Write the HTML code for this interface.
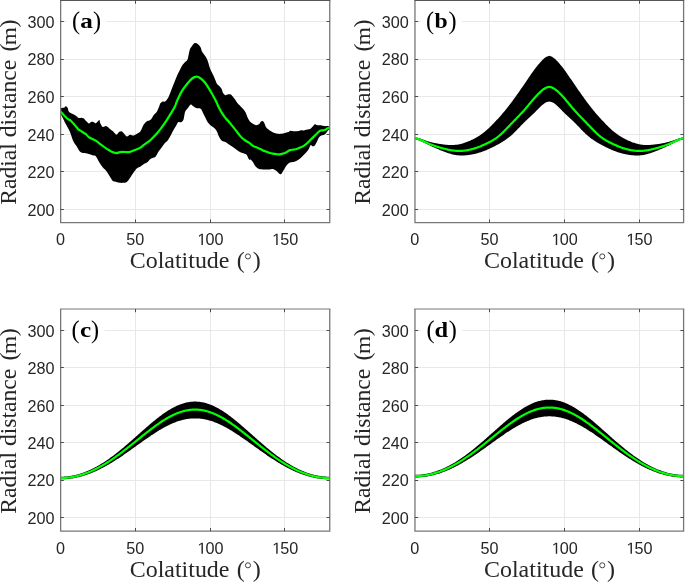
<!DOCTYPE html><html><head><meta charset="utf-8"><style>html,body{margin:0;padding:0;background:#fff;}body{width:685px;height:582px;overflow:hidden;}svg{display:block;}#w{will-change:transform;width:685px;height:582px;}.tk{font-family:"Liberation Sans",sans-serif;font-size:16.2px;fill:#262626;}.lb{font-family:"Liberation Serif",serif;font-size:23px;fill:#262626;}.lp{font-family:"Liberation Serif",serif;font-size:24px;fill:#262626;}.lm{font-family:"Liberation Serif",serif;font-size:22px;fill:#262626;}.pp{font-family:"Liberation Serif",serif;font-size:24.3px;font-weight:normal;fill:#000;}.pt{font-family:"Liberation Serif",serif;font-size:21.8px;font-weight:bold;fill:#000;}</style></head><body><div id="w"><svg width="685" height="582" viewBox="0 0 685 582"><defs><clipPath id="clipa"><rect x="60.5" y="0.5" width="269.1" height="222"/></clipPath><clipPath id="clipb"><rect x="414.8" y="0.5" width="269.1" height="222"/></clipPath><clipPath id="clipc"><rect x="60.5" y="309.5" width="269.1" height="221.7"/></clipPath><clipPath id="clipd"><rect x="414.8" y="309.5" width="269.1" height="221.7"/></clipPath></defs><rect width="685" height="582" fill="#fff"/><g stroke="#e8e8e8" stroke-width="1"><line x1="60.5" y1="209.5" x2="329.6" y2="209.5"/><line x1="60.5" y1="171.5" x2="329.6" y2="171.5"/><line x1="60.5" y1="134.5" x2="329.6" y2="134.5"/><line x1="60.5" y1="96.5" x2="329.6" y2="96.5"/><line x1="60.5" y1="59.5" x2="329.6" y2="59.5"/><line x1="60.5" y1="21.5" x2="329.6" y2="21.5"/><line x1="135.5" y1="0.5" x2="135.5" y2="222.5"/><line x1="210.5" y1="0.5" x2="210.5" y2="222.5"/><line x1="284.5" y1="0.5" x2="284.5" y2="222.5"/></g><g stroke="#e8e8e8" stroke-width="1"><line x1="414.8" y1="209.5" x2="683.9" y2="209.5"/><line x1="414.8" y1="171.5" x2="683.9" y2="171.5"/><line x1="414.8" y1="134.5" x2="683.9" y2="134.5"/><line x1="414.8" y1="96.5" x2="683.9" y2="96.5"/><line x1="414.8" y1="59.5" x2="683.9" y2="59.5"/><line x1="414.8" y1="21.5" x2="683.9" y2="21.5"/><line x1="489.5" y1="0.5" x2="489.5" y2="222.5"/><line x1="564.5" y1="0.5" x2="564.5" y2="222.5"/><line x1="639.5" y1="0.5" x2="639.5" y2="222.5"/></g><g stroke="#e8e8e8" stroke-width="1"><line x1="60.5" y1="517.5" x2="329.6" y2="517.5"/><line x1="60.5" y1="480.5" x2="329.6" y2="480.5"/><line x1="60.5" y1="442.5" x2="329.6" y2="442.5"/><line x1="60.5" y1="405.5" x2="329.6" y2="405.5"/><line x1="60.5" y1="367.5" x2="329.6" y2="367.5"/><line x1="60.5" y1="330.5" x2="329.6" y2="330.5"/><line x1="135.5" y1="309.5" x2="135.5" y2="531.2"/><line x1="210.5" y1="309.5" x2="210.5" y2="531.2"/><line x1="284.5" y1="309.5" x2="284.5" y2="531.2"/></g><g stroke="#e8e8e8" stroke-width="1"><line x1="414.8" y1="517.5" x2="683.9" y2="517.5"/><line x1="414.8" y1="480.5" x2="683.9" y2="480.5"/><line x1="414.8" y1="442.5" x2="683.9" y2="442.5"/><line x1="414.8" y1="405.5" x2="683.9" y2="405.5"/><line x1="414.8" y1="367.5" x2="683.9" y2="367.5"/><line x1="414.8" y1="330.5" x2="683.9" y2="330.5"/><line x1="489.5" y1="309.5" x2="489.5" y2="531.2"/><line x1="564.5" y1="309.5" x2="564.5" y2="531.2"/><line x1="639.5" y1="309.5" x2="639.5" y2="531.2"/></g><g clip-path="url(#clipa)"><path d="M60.47,108.75C60.64,108.63 61.1,108.23 61.5,108.06C61.9,107.89 62.41,107.77 62.87,107.71C63.33,107.66 63.9,107.89 64.25,107.71C64.59,107.54 64.65,106.95 64.93,106.68C65.22,106.42 65.62,106.08 65.97,106.13C66.31,106.19 66.65,106.59 67,107.03C67.34,107.46 67.8,108.12 68.03,108.75C68.26,109.38 68.14,110.23 68.37,110.81C68.6,111.38 68.94,111.78 69.4,112.18C69.86,112.58 70.49,112.87 71.12,113.21C71.75,113.56 72.61,113.96 73.18,114.24C73.75,114.53 73.98,114.59 74.56,114.93C75.13,115.27 75.93,115.79 76.62,116.31C77.31,116.82 77.88,117.79 78.68,118.02C79.48,118.25 80.63,117.62 81.43,117.68C82.23,117.74 82.8,117.91 83.49,118.37C84.18,118.83 84.87,119.74 85.55,120.43C86.24,121.12 87.04,121.98 87.62,122.49C88.19,123.01 88.53,123.52 88.99,123.52C89.45,123.52 89.91,122.78 90.36,122.49C90.82,122.21 91.17,121.86 91.74,121.8C92.31,121.75 93.09,121.92 93.8,122.15C94.51,122.38 95.09,123.53 96,123.18C96.91,122.83 98.55,120.16 99.24,120.07C99.92,119.98 99.52,121.5 100.1,122.65C100.67,123.79 101.67,126.37 102.67,126.94C103.68,127.51 104.96,125.8 106.11,126.08C107.26,126.37 108.4,127.8 109.55,128.66C110.69,129.52 111.84,130.23 112.98,131.24C114.13,132.24 115.42,134.53 116.42,134.67C117.42,134.82 118.14,132.67 119,132.1C119.86,131.52 120.71,130.95 121.57,131.24C122.43,131.52 123.29,132.96 124.15,133.81C125.01,134.67 125.73,136.25 126.73,136.39C127.73,136.53 129.02,134.82 130.16,134.67C131.31,134.53 132.46,135.68 133.6,135.53C134.75,135.39 135.89,134.53 137.04,133.81C138.18,133.1 139.33,132.81 140.47,131.24C141.62,129.66 142.77,126.08 143.91,124.36C145.06,122.65 146.45,121.55 147.35,120.93C148.24,120.3 148.61,120.93 149.28,120.62C149.94,120.31 150.65,119.93 151.34,119.07C152.03,118.21 152.54,116.58 153.4,115.46C154.26,114.35 155.72,113.4 156.49,112.37C157.27,111.34 157.53,110.48 158.04,109.28C158.56,108.08 159.16,106.19 159.59,105.15C160.02,104.12 160.1,103.69 160.62,103.09C161.13,102.49 161.87,101.84 162.68,101.55C163.49,101.25 164.43,102.21 165.46,101.31C166.5,100.41 167.74,98.48 168.9,96.15C170.06,93.82 171.42,89.79 172.41,87.31C173.39,84.84 174.01,83.31 174.81,81.3C175.61,79.3 176.41,77.09 177.22,75.29C178.02,73.48 178.82,72.08 179.62,70.48C180.42,68.87 181.23,66.97 182.03,65.66C182.83,64.36 183.53,63.66 184.43,62.66C185.34,61.65 186.74,60.95 187.44,59.65C188.14,58.35 188.24,56.54 188.64,54.84C189.04,53.14 189.34,50.83 189.85,49.43C190.35,48.02 190.95,47.42 191.65,46.42C192.35,45.42 193.35,43.97 194.06,43.41C194.76,42.85 195.16,42.85 195.86,43.05C196.56,43.25 197.46,43.85 198.27,44.62C199.07,45.38 200.07,46.52 200.67,47.62C201.27,48.72 201.27,50.03 201.87,51.23C202.48,52.43 203.48,53.64 204.28,54.84C205.08,56.04 205.98,57.04 206.69,58.45C207.39,59.85 207.99,61.76 208.49,63.26C208.99,64.76 209.19,66.07 209.69,67.47C210.19,68.87 210.89,70.38 211.5,71.68C212.1,72.98 212.7,73.98 213.3,75.29C213.9,76.59 214.5,78.09 215.1,79.5C215.71,80.9 216.21,82.6 216.91,83.71C217.61,84.81 218.51,85.21 219.31,86.11C220.12,87.01 221.12,88.02 221.72,89.12C222.32,90.22 222.32,91.72 222.92,92.73C223.52,93.73 224.53,94.83 225.33,95.13C226.13,95.43 226.83,94.63 227.73,94.53C228.64,94.43 229.94,94.23 230.74,94.53C231.54,94.83 231.84,95.53 232.55,96.34C233.25,97.14 234.15,98.24 234.95,99.34C235.75,100.44 236.11,101.47 237.36,102.95C238.6,104.43 241.06,106.68 242.42,108.25C243.78,109.82 244.66,110.82 245.52,112.37C246.37,113.92 246.72,115.89 247.58,117.53C248.44,119.16 249.43,120.96 250.67,122.16C251.91,123.37 254.03,124.23 255,124.74C255.97,125.25 255.8,125.29 256.48,125.22C257.15,125.16 258.34,124.94 259.05,124.36C259.77,123.79 260.2,122.36 260.77,121.79C261.35,121.21 261.92,120.78 262.49,120.93C263.06,121.07 263.64,121.64 264.21,122.65C264.78,123.65 265.21,125.8 265.93,126.94C266.64,128.09 267.65,128.8 268.51,129.52C269.36,130.23 270.08,130.66 271.08,131.24C272.08,131.81 273.37,132.53 274.52,132.96C275.66,133.38 276.81,133.67 277.96,133.81C279.1,133.96 280.25,133.96 281.39,133.81C282.54,133.67 283.68,133.24 284.83,132.96C285.97,132.67 287.41,132.44 288.26,132.1C289.12,131.75 289.12,131.04 289.98,130.89C290.84,130.75 292.27,131.18 293.42,131.24C294.56,131.29 295.71,131.38 296.86,131.24C298,131.09 299.15,130.52 300.29,130.38C301.44,130.23 302.58,130.52 303.73,130.38C304.87,130.23 306.02,129.81 307.16,129.52C308.31,129.23 309.6,129.23 310.6,128.66C311.6,128.09 312.46,126.8 313.18,126.08C313.89,125.37 314.18,124.51 314.9,124.36C315.61,124.22 316.47,125.08 317.47,125.22C318.48,125.37 319.77,125.08 320.91,125.22C322.06,125.37 323.2,125.94 324.35,126.08C325.49,126.23 326.87,125.97 327.78,126.08C328.7,126.2 329.5,126.66 329.85,126.77L329.9,128.8C329.58,129.1 328.68,129.83 328,130.6C327.32,131.37 326.55,132.65 325.8,133.4C325.05,134.15 324.25,134.73 323.5,135.1C322.75,135.47 322.03,135.23 321.3,135.6C320.57,135.97 319.75,136.45 319.1,137.3C318.45,138.15 317.97,139.58 317.4,140.7C316.83,141.82 316.17,143.17 315.7,144C315.23,144.83 315.15,145.32 314.6,145.7C314.05,146.08 313.05,146.4 312.4,146.3C311.75,146.2 311.27,144.73 310.7,145.1C310.13,145.47 309.65,147.38 309,148.5C308.35,149.62 307.73,150.68 306.8,151.8C305.87,152.92 304.52,154.08 303.4,155.2C302.28,156.32 301.22,157.57 300.1,158.5C298.98,159.43 297.82,160.23 296.7,160.8C295.58,161.37 294.52,161.63 293.4,161.9C292.28,162.17 291.12,161.85 290,162.4C288.88,162.95 287.82,163.8 286.7,165.2C285.58,166.6 284.25,169.3 283.3,170.8C282.35,172.3 281.75,173.78 281,174.2C280.25,174.62 279.61,173.91 278.81,173.33C278.02,172.76 277.24,171.47 276.24,170.76C275.23,170.04 273.95,169.27 272.8,169.04C271.66,168.81 270.51,169.32 269.36,169.38C268.22,169.44 267.07,169.38 265.93,169.38C264.78,169.38 263.64,169.44 262.49,169.38C261.35,169.32 260.2,169.52 259.05,169.04C257.91,168.55 256.62,167.61 255.62,166.46C254.62,165.32 253.9,163.31 253.04,162.16C252.18,161.02 251.2,160.15 250.46,159.59C249.73,159.02 249.26,159.59 248.61,158.76C247.96,157.94 247.58,155.58 246.55,154.64C245.52,153.69 243.8,153.69 242.42,153.09C241.05,152.49 239.67,151.89 238.3,151.03C236.92,150.17 235.55,148.88 234.18,147.94C232.8,146.99 231.43,146.31 230.05,145.36C228.68,144.42 227.3,143.04 225.93,142.27C224.55,141.49 223.01,141.75 221.8,140.72C220.6,139.69 219.48,137.54 218.71,136.08C217.94,134.62 217.85,133.25 217.16,131.96C216.48,130.67 215.7,129.47 214.59,128.35C213.47,127.23 211.67,126.37 210.46,125.26C209.26,124.14 208.23,122.94 207.37,121.65C206.51,120.36 206,118.9 205.31,117.53C204.62,116.15 203.93,114.78 203.25,113.4C202.56,112.03 201.87,110.14 201.19,109.28C200.5,108.42 199.7,108.42 199.12,108.25C198.55,108.08 198.31,108.33 197.73,108.25C197.16,108.16 196.53,108.16 195.67,107.73C194.81,107.3 193.44,106.19 192.58,105.67C191.72,105.15 191.2,104.38 190.52,104.64C189.83,104.9 189.31,106.1 188.45,107.22C187.59,108.33 186.05,109.97 185.36,111.34C184.67,112.71 184.67,114 184.33,115.46C183.99,116.92 183.81,118.99 183.3,120.1C182.78,121.22 182.1,121.82 181.24,122.16C180.38,122.51 179,121.56 178.14,122.16C177.29,122.77 176.94,124.31 176.08,125.77C175.22,127.23 173.85,129.38 172.99,130.93C172.13,132.47 171.79,133.51 170.93,135.05C170.07,136.6 168.87,138.83 167.84,140.21C166.8,141.58 165.77,142.1 164.74,143.3C163.71,144.5 162.68,146.05 161.65,147.42C160.62,148.8 159.59,150 158.56,151.55C157.53,153.09 156.76,155.5 155.46,156.7C154.17,157.9 152.14,157.82 150.78,158.73C149.43,159.64 148.49,161.31 147.35,162.16C146.2,163.02 145.06,163.17 143.91,163.88C142.77,164.6 141.62,165.74 140.47,166.46C139.33,167.18 138.18,167.18 137.04,168.18C135.89,169.18 134.75,170.9 133.6,172.47C132.46,174.05 131.31,176.05 130.16,177.63C129.02,179.2 127.87,181.07 126.73,181.92C125.58,182.78 124.44,182.64 123.29,182.78C122.15,182.93 121,182.93 119.86,182.78C118.71,182.64 117.56,182.21 116.42,181.92C115.27,181.64 114.13,182.07 112.98,181.07C111.84,180.06 110.69,177.63 109.55,175.91C108.4,174.19 107.26,172.19 106.11,170.76C104.96,169.32 103.82,168.75 102.67,167.32C101.53,165.89 100.38,164.03 99.24,162.16C98.09,160.3 96.95,157.3 95.8,156.15C94.66,155.01 93.8,155.72 92.36,155.29C90.93,154.86 88.93,154 87.21,153.57C85.49,153.14 83.34,153.14 82.05,152.71C80.77,152.29 80.34,152 79.48,151C78.62,149.99 77.9,148.28 76.9,146.7C75.9,145.13 74.48,143.63 73.46,141.55C72.44,139.46 71.4,135.86 70.78,134.18C70.16,132.49 70.15,132.34 69.75,131.43C69.34,130.51 68.83,129.54 68.37,128.68C67.91,127.82 67.45,127.07 67,126.27C66.54,125.47 66.08,124.73 65.62,123.87C65.16,123.01 64.71,122.03 64.25,121.12C63.79,120.2 63.33,119.28 62.87,118.37C62.41,117.45 61.9,116.53 61.5,115.62C61.1,114.7 60.64,113.33 60.47,112.87Z" fill="#000"/><path d="M60.47,111.49C60.75,111.78 61.56,112.53 62.19,113.21C62.82,113.9 63.56,114.87 64.25,115.62C64.93,116.36 65.62,117.05 66.31,117.68C67,118.31 67.68,118.94 68.37,119.4C69.06,119.86 69.75,119.91 70.43,120.43C71.12,120.95 71.81,121.75 72.49,122.49C73.18,123.24 73.87,124.1 74.56,124.9C75.24,125.7 75.93,126.5 76.62,127.3C77.31,128.1 78.11,129.19 78.68,129.71C79.25,130.22 79.48,130.05 80.05,130.4C80.63,130.74 81.43,131.31 82.12,131.77C82.8,132.23 83.49,132.69 84.18,133.14C84.87,133.6 85.45,133.83 86.24,134.52C87.03,135.2 87.91,136.51 88.93,137.25C89.95,137.99 91.22,138.4 92.36,138.97C93.51,139.54 94.66,139.97 95.8,140.69C96.95,141.4 98.09,142.41 99.24,143.26C100.38,144.12 101.53,144.98 102.67,145.84C103.82,146.7 104.96,147.65 106.11,148.42C107.26,149.19 108.4,149.85 109.55,150.48C110.69,151.11 111.84,151.77 112.98,152.2C114.13,152.63 115.27,153.06 116.42,153.06C117.56,153.06 118.71,152.4 119.86,152.2C121,152 122.15,151.86 123.29,151.86C124.44,151.86 125.58,152.2 126.73,152.2C127.87,152.2 129.02,152.14 130.16,151.86C131.31,151.57 132.46,150.91 133.6,150.48C134.75,150.05 135.89,149.77 137.04,149.28C138.18,148.79 139.33,148.28 140.47,147.56C141.62,146.84 142.77,145.84 143.91,144.98C145.06,144.12 146.28,143.2 147.35,142.41C148.41,141.61 148.96,141.43 150.31,140.21C151.66,138.98 153.75,136.94 155.46,135.05C157.18,133.16 158.9,131.1 160.62,128.87C162.34,126.63 164.05,124.23 165.77,121.65C167.49,119.07 169.38,115.98 170.93,113.4C172.47,110.82 174,108.33 175.05,106.19C176.1,104.04 176.05,103.09 177.22,100.55C178.38,98 180.42,93.63 182.03,90.92C183.63,88.22 185.24,86.31 186.84,84.31C188.44,82.3 190.35,80.1 191.65,78.89C192.95,77.69 193.65,77.45 194.66,77.09C195.66,76.73 196.56,76.43 197.66,76.73C198.77,77.03 200.07,77.93 201.27,78.89C202.48,79.86 203.68,81 204.88,82.5C206.08,84.01 207.29,86.01 208.49,87.92C209.69,89.82 210.89,91.82 212.1,93.93C213.3,96.03 214.6,98.33 215.71,100.55C216.81,102.76 217.52,104.9 218.71,107.22C219.9,109.53 221.63,112.54 222.84,114.43C224.04,116.32 225.07,117.5 225.93,118.56C226.79,119.62 227.19,119.88 228,120.8C228.81,121.72 229.88,123 230.8,124.1C231.72,125.2 232.58,126.27 233.5,127.4C234.42,128.53 235.38,129.72 236.3,130.9C237.22,132.08 238.08,133.35 239,134.5C239.92,135.65 240.88,136.88 241.8,137.8C242.72,138.72 243.58,139.35 244.5,140C245.42,140.65 246.38,141.15 247.3,141.7C248.22,142.25 249.19,142.7 250,143.3C250.81,143.9 251.25,144.7 252.18,145.33C253.12,145.95 254.47,146.53 255.62,147.04C256.76,147.56 257.91,147.9 259.05,148.42C260.2,148.93 261.35,149.62 262.49,150.14C263.64,150.65 264.78,151.08 265.93,151.51C267.07,151.94 268.22,152.37 269.36,152.71C270.51,153.06 271.66,153.34 272.8,153.57C273.95,153.8 275.09,153.95 276.24,154.09C277.38,154.23 278.53,154.52 279.67,154.43C280.82,154.35 281.96,153.95 283.11,153.57C284.26,153.2 285.4,152.77 286.55,152.2C287.69,151.63 288.84,150.57 289.98,150.14C291.13,149.71 292.27,149.82 293.42,149.62C294.56,149.42 295.71,149.28 296.86,148.93C298,148.59 299.15,148.08 300.29,147.56C301.44,147.04 302.58,146.56 303.73,145.84C304.87,145.13 306.02,144.27 307.16,143.26C308.31,142.26 309.46,140.97 310.6,139.83C311.75,138.68 312.89,137.54 314.04,136.39C315.18,135.25 316.47,133.9 317.47,132.96C318.48,132.01 319.19,131.15 320.05,130.72C320.91,130.29 321.77,130.52 322.63,130.38C323.49,130.23 324.35,130.23 325.21,129.86C326.07,129.49 327.01,128.57 327.78,128.14C328.56,127.71 329.5,127.43 329.85,127.29" fill="none" stroke="#00ff00" stroke-width="2.2" stroke-linejoin="round"/></g><g clip-path="url(#clipb)"><polygon points="414.8,136.95 415.47,137.12 416.15,137.31 416.82,137.5 417.49,137.71 418.16,137.92 418.84,138.14 419.51,138.37 420.18,138.6 420.85,138.84 421.53,139.07 422.2,139.31 422.87,139.56 423.55,139.8 424.22,140.04 424.89,140.27 425.56,140.51 426.24,140.74 426.91,140.96 427.58,141.18 428.25,141.39 428.93,141.59 429.6,141.78 430.27,141.97 430.95,142.15 431.62,142.32 432.29,142.48 432.96,142.64 433.64,142.79 434.31,142.93 434.98,143.07 435.66,143.21 436.33,143.34 437,143.46 437.67,143.58 438.35,143.69 439.02,143.8 439.69,143.91 440.36,144.01 441.04,144.11 441.71,144.2 442.38,144.29 443.06,144.38 443.73,144.47 444.4,144.55 445.07,144.63 445.75,144.7 446.42,144.76 447.09,144.82 447.76,144.88 448.44,144.92 449.11,144.96 449.78,144.99 450.46,145.01 451.13,145.02 451.8,145.02 452.47,145.02 453.15,145 453.82,144.97 454.49,144.93 455.17,144.87 455.84,144.81 456.51,144.73 457.18,144.64 457.86,144.53 458.53,144.41 459.2,144.28 459.87,144.14 460.55,143.98 461.22,143.82 461.89,143.64 462.57,143.45 463.24,143.25 463.91,143.04 464.58,142.82 465.26,142.59 465.93,142.35 466.6,142.1 467.27,141.84 467.95,141.58 468.62,141.3 469.29,141.01 469.97,140.72 470.64,140.42 471.31,140.11 471.98,139.79 472.66,139.46 473.33,139.13 474,138.78 474.67,138.42 475.35,138.06 476.02,137.68 476.69,137.29 477.37,136.89 478.04,136.48 478.71,136.06 479.38,135.63 480.06,135.18 480.73,134.72 481.4,134.25 482.08,133.76 482.75,133.26 483.42,132.75 484.09,132.22 484.77,131.68 485.44,131.12 486.11,130.55 486.78,129.96 487.46,129.36 488.13,128.75 488.8,128.13 489.48,127.49 490.15,126.84 490.82,126.17 491.49,125.5 492.17,124.81 492.84,124.11 493.51,123.41 494.18,122.69 494.86,121.95 495.53,121.26 496.2,120.56 496.88,119.85 497.55,119.13 498.22,118.4 498.89,117.67 499.57,116.92 500.24,116.17 500.91,115.41 501.58,114.64 502.26,113.86 502.93,113.07 503.6,112.28 504.28,111.48 504.95,110.67 505.62,109.84 506.29,108.99 506.97,108.14 507.64,107.29 508.31,106.43 508.99,105.56 509.66,104.69 510.33,103.81 511,102.93 511.68,102.05 512.35,101.14 513.02,100.21 513.69,99.29 514.37,98.35 515.04,97.42 515.71,96.48 516.39,95.53 517.06,94.59 517.73,93.63 518.4,92.68 519.08,91.72 519.75,90.76 520.42,89.79 521.09,88.82 521.77,87.85 522.44,86.88 523.11,85.89 523.79,84.91 524.46,83.92 525.13,82.93 525.8,81.94 526.48,80.95 527.15,79.96 527.82,78.98 528.49,77.99 529.17,77.02 529.84,76.05 530.51,75.06 531.19,74.08 531.86,73.11 532.53,72.16 533.2,71.21 533.88,70.28 534.55,69.37 535.22,68.48 535.89,67.6 536.57,66.74 537.24,65.9 537.91,65.08 538.59,64.27 539.26,63.48 539.93,62.71 540.6,61.96 541.28,61.23 541.95,60.53 542.62,59.85 543.3,59.21 543.97,58.61 544.64,58.07 545.31,57.56 545.99,57.09 546.66,56.7 547.33,56.38 548,56.13 548.68,55.95 549.35,55.85 550.02,55.97 550.7,56.16 551.37,56.42 552.04,56.75 552.71,57.16 553.39,57.63 554.06,58.14 554.73,58.7 555.4,59.3 556.08,59.95 556.75,60.63 557.42,61.34 558.1,62.07 558.77,62.83 559.44,63.6 560.11,64.39 560.79,65.2 561.46,66.03 562.13,66.87 562.81,67.73 563.48,68.61 564.15,69.51 564.82,70.42 565.5,71.35 566.17,72.3 566.84,73.26 567.51,74.23 568.19,75.21 568.86,76.19 569.53,77.16 570.21,78.14 570.88,79.12 571.55,80.11 572.22,81.1 572.9,82.09 573.57,83.08 574.24,84.07 574.91,85.06 575.59,86.04 576.26,87.02 576.93,88 577.61,88.97 578.28,89.94 578.95,90.9 579.62,91.86 580.3,92.82 580.97,93.78 581.64,94.73 582.31,95.67 582.99,96.62 583.66,97.56 584.33,98.49 585.01,99.42 585.68,100.35 586.35,101.28 587.02,102.18 587.7,103.06 588.37,103.94 589.04,104.82 589.72,105.69 590.39,106.55 591.06,107.42 591.73,108.27 592.41,109.12 593.08,109.96 593.75,110.8 594.42,111.6 595.1,112.4 595.77,113.19 596.44,113.98 597.12,114.75 597.79,115.52 598.46,116.28 599.13,117.04 599.81,117.78 600.48,118.51 601.15,119.24 601.82,119.96 602.5,120.66 603.17,121.36 603.84,122.06 604.52,122.79 605.19,123.51 605.86,124.22 606.53,124.92 607.21,125.6 607.88,126.27 608.55,126.93 609.22,127.58 609.9,128.22 610.57,128.84 611.24,129.45 611.92,130.05 612.59,130.63 613.26,131.2 613.93,131.76 614.61,132.3 615.28,132.82 615.95,133.34 616.62,133.83 617.3,134.32 617.97,134.79 618.64,135.25 619.32,135.69 619.99,136.12 620.66,136.54 621.33,136.95 622.01,137.35 622.68,137.74 623.35,138.11 624.03,138.48 624.7,138.83 625.37,139.18 626.04,139.51 626.72,139.84 627.39,140.16 628.06,140.46 628.73,140.76 629.41,141.06 630.08,141.34 630.75,141.62 631.43,141.88 632.1,142.14 632.77,142.39 633.44,142.63 634.12,142.86 634.79,143.08 635.46,143.28 636.13,143.48 636.81,143.67 637.48,143.84 638.15,144.01 638.83,144.16 639.5,144.3 640.17,144.43 640.84,144.55 641.52,144.65 642.19,144.74 642.86,144.82 643.54,144.88 644.21,144.93 644.88,144.97 645.55,145 646.23,145.02 646.9,145.03 647.57,145.02 648.24,145.01 648.92,144.99 649.59,144.95 650.26,144.91 650.94,144.87 651.61,144.81 652.28,144.75 652.95,144.69 653.63,144.61 654.3,144.54 654.97,144.45 655.64,144.37 656.32,144.28 656.99,144.19 657.66,144.09 658.34,143.99 659.01,143.89 659.68,143.78 660.35,143.67 661.03,143.56 661.7,143.44 662.37,143.32 663.04,143.19 663.72,143.05 664.39,142.91 665.06,142.77 665.74,142.62 666.41,142.46 667.08,142.29 667.75,142.12 668.43,141.94 669.1,141.75 669.77,141.56 670.45,141.36 671.12,141.15 671.79,140.93 672.46,140.7 673.14,140.47 673.81,140.24 674.48,140 675.15,139.76 675.83,139.52 676.5,139.28 677.17,139.04 677.85,138.8 678.52,138.57 679.19,138.34 679.86,138.11 680.54,137.89 681.21,137.68 681.88,137.47 682.55,137.28 683.23,137.1 683.9,136.92 683.9,139.01 683.23,139.2 682.55,139.4 681.88,139.61 681.21,139.84 680.54,140.09 679.86,140.34 679.19,140.61 678.52,140.89 677.85,141.17 677.17,141.47 676.5,141.77 675.83,142.08 675.15,142.39 674.48,142.71 673.81,143.04 673.14,143.36 672.46,143.69 671.79,144.02 671.12,144.34 670.45,144.67 669.77,144.99 669.1,145.31 668.43,145.63 667.75,145.95 667.08,146.27 666.41,146.58 665.74,146.89 665.06,147.2 664.39,147.5 663.72,147.81 663.04,148.11 662.37,148.41 661.7,148.7 661.03,148.99 660.35,149.28 659.68,149.57 659.01,149.85 658.34,150.13 657.66,150.41 656.99,150.68 656.32,150.95 655.64,151.21 654.97,151.47 654.3,151.73 653.63,151.98 652.95,152.23 652.28,152.47 651.61,152.71 650.94,152.94 650.26,153.17 649.59,153.38 648.92,153.59 648.24,153.8 647.57,153.99 646.9,154.18 646.23,154.35 645.55,154.52 644.88,154.68 644.21,154.83 643.54,154.96 642.86,155.06 642.19,155.15 641.52,155.23 640.84,155.3 640.17,155.36 639.5,155.4 638.83,155.44 638.15,155.46 637.48,155.48 636.81,155.48 636.13,155.47 635.46,155.46 634.79,155.43 634.12,155.4 633.44,155.35 632.77,155.3 632.1,155.24 631.43,155.17 630.75,155.09 630.08,155 629.41,154.9 628.73,154.79 628.06,154.69 627.39,154.58 626.72,154.46 626.04,154.33 625.37,154.2 624.7,154.05 624.03,153.9 623.35,153.74 622.68,153.58 622.01,153.4 621.33,153.22 620.66,153.03 619.99,152.84 619.32,152.63 618.64,152.42 617.97,152.2 617.3,151.98 616.62,151.75 615.95,151.51 615.28,151.26 614.61,151 613.93,150.74 613.26,150.47 612.59,150.2 611.92,149.92 611.24,149.63 610.57,149.34 609.9,149.04 609.22,148.73 608.55,148.42 607.88,148.11 607.21,147.79 606.53,147.47 605.86,147.14 605.19,146.81 604.52,146.47 603.84,146.12 603.17,145.78 602.5,145.42 601.82,145.06 601.15,144.7 600.48,144.33 599.81,143.96 599.13,143.58 598.46,143.2 597.79,142.81 597.12,142.41 596.44,142.01 595.77,141.59 595.1,141.17 594.42,140.74 593.75,140.29 593.08,139.84 592.41,139.37 591.73,138.89 591.06,138.4 590.39,137.89 589.72,137.37 589.04,136.83 588.37,136.28 587.7,135.71 587.02,135.12 586.35,134.52 585.68,133.9 585.01,133.26 584.33,132.6 583.66,131.94 582.99,131.26 582.31,130.57 581.64,129.88 580.97,129.18 580.3,128.47 579.62,127.77 578.95,127.06 578.28,126.35 577.61,125.65 576.93,124.95 576.26,124.26 575.59,123.57 574.91,122.9 574.24,122.23 573.57,121.58 572.9,120.93 572.22,120.3 571.55,119.67 570.88,119.05 570.21,118.43 569.53,117.81 568.86,117.19 568.19,116.57 567.51,115.95 566.84,115.32 566.17,114.69 565.5,114.05 564.82,113.4 564.15,112.74 563.48,112.07 562.81,111.4 562.13,110.72 561.46,110.04 560.79,109.36 560.11,108.68 559.44,108.01 558.77,107.35 558.1,106.7 557.42,106.06 556.75,105.44 556.08,104.84 555.4,104.28 554.73,103.75 554.06,103.27 553.39,102.83 552.71,102.46 552.04,102.16 551.37,101.92 550.7,101.74 550.02,101.64 549.35,101.6 548.68,101.63 548,101.72 547.33,101.89 546.66,102.12 545.99,102.41 545.31,102.78 544.64,103.2 543.97,103.67 543.3,104.2 542.62,104.76 541.95,105.35 541.28,105.97 540.6,106.6 539.93,107.25 539.26,107.91 538.59,108.58 537.91,109.26 537.24,109.94 536.57,110.62 535.89,111.3 535.22,111.97 534.55,112.64 533.88,113.3 533.2,113.95 532.53,114.59 531.86,115.23 531.19,115.85 530.51,116.48 529.84,117.1 529.17,117.71 528.49,118.33 527.82,118.95 527.15,119.58 526.48,120.2 525.8,120.84 525.13,121.48 524.46,122.13 523.79,122.8 523.11,123.47 522.44,124.15 521.77,124.85 521.09,125.55 520.42,126.25 519.75,126.95 519.08,127.66 518.4,128.37 517.73,129.07 517.06,129.77 516.39,130.47 515.71,131.16 515.04,131.84 514.37,132.51 513.69,133.16 513.02,133.8 512.35,134.43 511.68,135.04 511,135.63 510.33,136.2 509.66,136.75 508.99,137.29 508.31,137.82 507.64,138.33 506.97,138.82 506.29,139.3 505.62,139.77 504.95,140.23 504.28,140.67 503.6,141.11 502.93,141.53 502.26,141.95 501.58,142.35 500.91,142.75 500.24,143.14 499.57,143.53 498.89,143.9 498.22,144.28 497.55,144.65 496.88,145.01 496.2,145.37 495.53,145.72 494.86,146.07 494.18,146.42 493.51,146.76 492.84,147.09 492.17,147.42 491.49,147.74 490.82,148.06 490.15,148.37 489.48,148.69 488.8,148.99 488.13,149.29 487.46,149.59 486.78,149.88 486.11,150.16 485.44,150.43 484.77,150.7 484.09,150.97 483.42,151.22 482.75,151.47 482.08,151.71 481.4,151.94 480.73,152.17 480.06,152.39 479.38,152.6 478.71,152.81 478.04,153.01 477.37,153.2 476.69,153.38 476.02,153.55 475.35,153.72 474.67,153.88 474,154.03 473.33,154.18 472.66,154.31 471.98,154.44 471.31,154.56 470.64,154.67 469.97,154.78 469.29,154.89 468.62,154.98 467.95,155.07 467.27,155.16 466.6,155.23 465.93,155.29 465.26,155.35 464.58,155.39 463.91,155.43 463.24,155.46 462.57,155.47 461.89,155.48 461.22,155.48 460.55,155.46 459.87,155.44 459.2,155.41 458.53,155.36 457.86,155.31 457.18,155.24 456.51,155.17 455.84,155.08 455.17,154.98 454.49,154.85 453.82,154.7 453.15,154.55 452.47,154.38 451.8,154.2 451.13,154.02 450.46,153.83 449.78,153.62 449.11,153.42 448.44,153.2 447.76,152.98 447.09,152.75 446.42,152.51 445.75,152.27 445.07,152.02 444.4,151.77 443.73,151.51 443.06,151.25 442.38,150.99 441.71,150.72 441.04,150.45 440.36,150.17 439.69,149.89 439.02,149.61 438.35,149.32 437.67,149.04 437,148.74 436.33,148.45 435.66,148.15 434.98,147.85 434.31,147.55 433.64,147.24 432.96,146.94 432.29,146.63 431.62,146.31 430.95,146 430.27,145.68 429.6,145.36 428.93,145.04 428.25,144.72 427.58,144.39 426.91,144.06 426.24,143.74 425.56,143.41 424.89,143.08 424.22,142.76 423.55,142.44 422.87,142.13 422.2,141.82 421.53,141.51 420.85,141.22 420.18,140.93 419.51,140.65 418.84,140.38 418.16,140.12 417.49,139.88 416.82,139.65 416.15,139.43 415.47,139.23 414.8,139.04" fill="#000"/><polyline points="414.8,137.96 415.47,138.14 416.15,138.34 416.82,138.56 417.49,138.79 418.16,139.04 418.84,139.29 419.51,139.56 420.18,139.84 420.85,140.12 421.53,140.41 422.2,140.71 422.87,141.01 423.55,141.31 424.22,141.62 424.89,141.93 425.56,142.23 426.24,142.54 426.91,142.84 427.58,143.14 428.25,143.43 428.93,143.71 429.6,143.99 430.27,144.26 430.95,144.53 431.62,144.79 432.29,145.04 432.96,145.29 433.64,145.53 434.31,145.77 434.98,146 435.66,146.23 436.33,146.45 437,146.67 437.67,146.88 438.35,147.09 439.02,147.3 439.69,147.5 440.36,147.7 441.04,147.89 441.71,148.08 442.38,148.26 443.06,148.45 443.73,148.62 444.4,148.8 445.07,148.97 445.75,149.13 446.42,149.29 447.09,149.44 447.76,149.59 448.44,149.73 449.11,149.87 449.78,150 450.46,150.12 451.13,150.23 451.8,150.34 452.47,150.44 453.15,150.53 453.82,150.61 454.49,150.68 455.17,150.75 455.84,150.8 456.51,150.84 457.18,150.88 457.86,150.9 458.53,150.92 459.2,150.92 459.87,150.92 460.55,150.9 461.22,150.87 461.89,150.84 462.57,150.79 463.24,150.74 463.91,150.67 464.58,150.6 465.26,150.51 465.93,150.42 466.6,150.31 467.27,150.2 467.95,150.07 468.62,149.94 469.29,149.79 469.97,149.64 470.64,149.49 471.31,149.32 471.98,149.15 472.66,148.97 473.33,148.78 474,148.58 474.67,148.37 475.35,148.15 476.02,147.93 476.69,147.7 477.37,147.46 478.04,147.21 478.71,146.95 479.38,146.69 480.06,146.43 480.73,146.15 481.4,145.88 482.08,145.59 482.75,145.3 483.42,145.01 484.09,144.71 484.77,144.4 485.44,144.09 486.11,143.77 486.78,143.45 487.46,143.12 488.13,142.78 488.8,142.46 489.48,142.12 490.15,141.77 490.82,141.42 491.49,141.05 492.17,140.67 492.84,140.27 493.51,139.86 494.18,139.44 494.86,139 495.53,138.54 496.2,138.07 496.88,137.58 497.55,137.07 498.22,136.55 498.89,136 499.57,135.44 500.24,134.85 500.91,134.24 501.58,133.62 502.26,132.99 502.93,132.34 503.6,131.68 504.28,131.01 504.95,130.34 505.62,129.66 506.29,128.97 506.97,128.28 507.64,127.58 508.31,126.89 508.99,126.19 509.66,125.49 510.33,124.79 511,124.07 511.68,123.36 512.35,122.65 513.02,121.95 513.69,121.26 514.37,120.57 515.04,119.88 515.71,119.19 516.39,118.5 517.06,117.81 517.73,117.12 518.4,116.43 519.08,115.73 519.75,115.03 520.42,114.32 521.09,113.61 521.77,112.89 522.44,112.16 523.11,111.42 523.79,110.67 524.46,109.9 525.13,109.13 525.8,108.34 526.48,107.55 527.15,106.75 527.82,105.95 528.49,105.14 529.17,104.33 529.84,103.52 530.51,102.71 531.19,101.9 531.86,101.1 532.53,100.3 533.2,99.51 533.88,98.72 534.55,97.95 535.22,97.19 535.89,96.44 536.57,95.71 537.24,94.99 537.91,94.3 538.59,93.62 539.26,92.97 539.93,92.34 540.6,91.71 541.28,91.09 541.95,90.51 542.62,89.97 543.3,89.46 543.97,88.98 544.64,88.56 545.31,88.18 545.99,87.84 546.66,87.55 547.33,87.31 548,87.12 548.68,86.98 549.35,86.91 550.02,87 550.7,87.14 551.37,87.34 552.04,87.59 552.71,87.89 553.39,88.23 554.06,88.62 554.73,89.05 555.4,89.53 556.08,90.05 556.75,90.6 557.42,91.18 558.1,91.8 558.77,92.43 559.44,93.07 560.11,93.72 560.79,94.4 561.46,95.1 562.13,95.82 562.81,96.55 563.48,97.3 564.15,98.06 564.82,98.84 565.5,99.62 566.17,100.42 566.84,101.22 567.51,102.02 568.19,102.83 568.86,103.64 569.53,104.45 570.21,105.26 570.88,106.07 571.55,106.87 572.22,107.67 572.9,108.46 573.57,109.24 574.24,110.02 574.91,110.78 575.59,111.53 576.26,112.27 576.93,113 577.61,113.72 578.28,114.43 578.95,115.14 579.62,115.84 580.3,116.53 580.97,117.22 581.64,117.91 582.31,118.6 582.99,119.29 583.66,119.98 584.33,120.67 585.01,121.36 585.68,122.06 586.35,122.76 587.02,123.47 587.7,124.18 588.37,124.89 589.04,125.6 589.72,126.29 590.39,126.99 591.06,127.69 591.73,128.38 592.41,129.07 593.08,129.76 593.75,130.44 594.42,131.11 595.1,131.78 595.77,132.43 596.44,133.08 597.12,133.71 597.79,134.33 598.46,134.94 599.13,135.52 599.81,136.08 600.48,136.63 601.15,137.15 601.82,137.65 602.5,138.14 603.17,138.61 603.84,139.06 604.52,139.5 605.19,139.92 605.86,140.33 606.53,140.72 607.21,141.1 607.88,141.47 608.55,141.83 609.22,142.17 609.9,142.51 610.57,142.83 611.24,143.17 611.92,143.5 612.59,143.82 613.26,144.14 613.93,144.45 614.61,144.75 615.28,145.05 615.95,145.34 616.62,145.63 617.3,145.92 617.97,146.2 618.64,146.47 619.32,146.73 619.99,146.99 620.66,147.25 621.33,147.49 622.01,147.73 622.68,147.96 623.35,148.18 624.03,148.4 624.7,148.61 625.37,148.81 626.04,148.99 626.72,149.18 627.39,149.35 628.06,149.51 628.73,149.66 629.41,149.82 630.08,149.96 630.75,150.09 631.43,150.22 632.1,150.33 632.77,150.43 633.44,150.53 634.12,150.61 634.79,150.68 635.46,150.75 636.13,150.8 636.81,150.85 637.48,150.88 638.15,150.9 638.83,150.92 639.5,150.92 640.17,150.91 640.84,150.9 641.52,150.87 642.19,150.84 642.86,150.79 643.54,150.74 644.21,150.67 644.88,150.6 645.55,150.51 646.23,150.42 646.9,150.32 647.57,150.22 648.24,150.1 648.92,149.98 649.59,149.85 650.26,149.71 650.94,149.57 651.61,149.42 652.28,149.27 652.95,149.11 653.63,148.94 654.3,148.77 654.97,148.6 655.64,148.42 656.32,148.24 656.99,148.05 657.66,147.86 658.34,147.67 659.01,147.47 659.68,147.27 660.35,147.06 661.03,146.85 661.7,146.64 662.37,146.42 663.04,146.2 663.72,145.97 664.39,145.73 665.06,145.5 665.74,145.25 666.41,145 667.08,144.75 667.75,144.49 668.43,144.22 669.1,143.95 669.77,143.67 670.45,143.38 671.12,143.09 671.79,142.79 672.46,142.49 673.14,142.19 673.81,141.88 674.48,141.58 675.15,141.27 675.83,140.97 676.5,140.66 677.17,140.37 677.85,140.08 678.52,139.79 679.19,139.52 679.86,139.25 680.54,139 681.21,138.76 681.88,138.53 682.55,138.31 683.23,138.11 683.9,137.93" fill="none" stroke="#00ff00" stroke-width="2.2" stroke-linejoin="round"/></g><g clip-path="url(#clipc)"><polygon points="60.5,476.73 61.25,476.73 61.99,476.72 62.74,476.69 63.49,476.66 64.24,476.62 64.98,476.57 65.73,476.51 66.48,476.45 67.23,476.37 67.97,476.29 68.72,476.19 69.47,476.09 70.22,475.98 70.97,475.86 71.71,475.73 72.46,475.59 73.21,475.44 73.95,475.29 74.7,475.12 75.45,474.95 76.2,474.77 76.94,474.58 77.69,474.38 78.44,474.17 79.19,473.95 79.94,473.73 80.68,473.49 81.43,473.25 82.18,473 82.92,472.74 83.67,472.47 84.42,472.2 85.17,471.91 85.92,471.62 86.66,471.32 87.41,471.01 88.16,470.69 88.91,470.36 89.65,470.03 90.4,469.68 91.15,469.33 91.9,468.98 92.64,468.61 93.39,468.23 94.14,467.85 94.88,467.46 95.63,467.06 96.38,466.66 97.13,466.24 97.88,465.82 98.62,465.4 99.37,464.96 100.12,464.52 100.87,464.07 101.61,463.61 102.36,463.14 103.11,462.67 103.86,462.19 104.6,461.71 105.35,461.22 106.1,460.72 106.84,460.21 107.59,459.7 108.34,459.18 109.09,458.65 109.84,458.12 110.58,457.59 111.33,457.04 112.08,456.49 112.83,455.94 113.57,455.38 114.32,454.81 115.07,454.24 115.81,453.66 116.56,453.08 117.31,452.49 118.06,451.9 118.81,451.3 119.55,450.7 120.3,450.09 121.05,449.48 121.8,448.87 122.54,448.25 123.29,447.63 124.04,447 124.79,446.37 125.53,445.73 126.28,445.1 127.03,444.46 127.78,443.81 128.52,443.17 129.27,442.52 130.02,441.87 130.77,441.21 131.51,440.56 132.26,439.9 133.01,439.24 133.75,438.58 134.5,437.92 135.25,437.26 136,436.59 136.75,435.93 137.49,435.26 138.24,434.6 138.99,433.93 139.74,433.27 140.48,432.6 141.23,431.94 141.98,431.28 142.73,430.62 143.47,429.96 144.22,429.3 144.97,428.64 145.72,427.98 146.46,427.33 147.21,426.68 147.96,426.04 148.71,425.39 149.45,424.75 150.2,424.11 150.95,423.48 151.69,422.85 152.44,422.22 153.19,421.6 153.94,420.99 154.69,420.38 155.43,419.77 156.18,419.17 156.93,418.58 157.68,417.99 158.42,417.41 159.17,416.84 159.92,416.27 160.67,415.71 161.41,415.16 162.16,414.61 162.91,414.07 163.66,413.54 164.4,413.02 165.15,412.51 165.9,412.01 166.65,411.51 167.39,411.03 168.14,410.55 168.89,410.09 169.63,409.63 170.38,409.19 171.13,408.76 171.88,408.33 172.62,407.92 173.37,407.52 174.12,407.13 174.87,406.75 175.62,406.39 176.36,406.03 177.11,405.69 177.86,405.36 178.61,405.05 179.35,404.74 180.1,404.45 180.85,404.18 181.6,403.91 182.34,403.66 183.09,403.43 183.84,403.2 184.59,402.99 185.33,402.8 186.08,402.61 186.83,402.45 187.57,402.29 188.32,402.16 189.07,402.03 189.82,401.92 190.57,401.83 191.31,401.74 192.06,401.68 192.81,401.63 193.56,401.59 194.3,401.57 195.05,401.56 195.8,401.57 196.55,401.59 197.29,401.63 198.04,401.68 198.79,401.74 199.54,401.83 200.28,401.92 201.03,402.03 201.78,402.16 202.53,402.29 203.27,402.45 204.02,402.61 204.77,402.8 205.52,402.99 206.26,403.2 207.01,403.43 207.76,403.66 208.51,403.91 209.25,404.18 210,404.45 210.75,404.74 211.5,405.05 212.24,405.36 212.99,405.69 213.74,406.03 214.49,406.39 215.23,406.75 215.98,407.13 216.73,407.52 217.48,407.92 218.22,408.33 218.97,408.76 219.72,409.19 220.47,409.63 221.21,410.09 221.96,410.55 222.71,411.03 223.46,411.51 224.2,412.01 224.95,412.51 225.7,413.02 226.45,413.54 227.19,414.07 227.94,414.61 228.69,415.16 229.44,415.71 230.18,416.27 230.93,416.84 231.68,417.41 232.43,417.99 233.17,418.58 233.92,419.17 234.67,419.77 235.42,420.38 236.16,420.99 236.91,421.6 237.66,422.22 238.41,422.85 239.15,423.48 239.9,424.11 240.65,424.75 241.4,425.39 242.14,426.04 242.89,426.68 243.64,427.33 244.39,427.98 245.13,428.64 245.88,429.3 246.63,429.96 247.38,430.62 248.12,431.28 248.87,431.94 249.62,432.6 250.37,433.27 251.11,433.93 251.86,434.6 252.61,435.26 253.36,435.93 254.1,436.59 254.85,437.26 255.6,437.92 256.35,438.58 257.09,439.24 257.84,439.9 258.59,440.56 259.34,441.21 260.08,441.87 260.83,442.52 261.58,443.17 262.33,443.81 263.07,444.46 263.82,445.1 264.57,445.73 265.31,446.37 266.06,447 266.81,447.63 267.56,448.25 268.31,448.87 269.05,449.48 269.8,450.09 270.55,450.7 271.3,451.3 272.04,451.9 272.79,452.49 273.54,453.08 274.28,453.66 275.03,454.24 275.78,454.81 276.53,455.38 277.28,455.94 278.02,456.49 278.77,457.04 279.52,457.59 280.26,458.12 281.01,458.65 281.76,459.18 282.51,459.7 283.25,460.21 284,460.72 284.75,461.22 285.5,461.71 286.25,462.19 286.99,462.67 287.74,463.14 288.49,463.61 289.24,464.07 289.98,464.52 290.73,464.96 291.48,465.4 292.23,465.82 292.97,466.24 293.72,466.66 294.47,467.06 295.22,467.46 295.96,467.85 296.71,468.23 297.46,468.61 298.21,468.98 298.95,469.33 299.7,469.68 300.45,470.03 301.2,470.36 301.94,470.69 302.69,471.01 303.44,471.32 304.19,471.62 304.93,471.91 305.68,472.2 306.43,472.47 307.18,472.74 307.92,473 308.67,473.25 309.42,473.49 310.17,473.73 310.91,473.95 311.66,474.17 312.41,474.38 313.16,474.58 313.9,474.77 314.65,474.95 315.4,475.12 316.14,475.29 316.89,475.44 317.64,475.59 318.39,475.73 319.14,475.86 319.88,475.98 320.63,476.09 321.38,476.19 322.12,476.29 322.87,476.37 323.62,476.45 324.37,476.51 325.12,476.57 325.86,476.62 326.61,476.66 327.36,476.69 328.11,476.72 328.85,476.73 329.6,476.73 329.6,479.35 328.85,479.35 328.11,479.34 327.36,479.32 326.61,479.29 325.86,479.26 325.12,479.22 324.37,479.17 323.62,479.11 322.87,479.05 322.12,478.97 321.38,478.89 320.63,478.81 319.88,478.71 319.14,478.61 318.39,478.5 317.64,478.39 316.89,478.26 316.14,478.13 315.4,477.99 314.65,477.85 313.9,477.69 313.16,477.53 312.41,477.36 311.66,477.19 310.91,477 310.17,476.81 309.42,476.62 308.67,476.41 307.92,476.2 307.18,475.98 306.43,475.76 305.68,475.52 304.93,475.28 304.19,475.04 303.44,474.78 302.69,474.52 301.94,474.26 301.2,473.98 300.45,473.7 299.7,473.41 298.95,473.12 298.21,472.82 297.46,472.51 296.71,472.2 295.96,471.88 295.22,471.55 294.47,471.22 293.72,470.88 292.97,470.53 292.23,470.18 291.48,469.82 290.73,469.46 289.98,469.09 289.24,468.71 288.49,468.33 287.74,467.94 286.99,467.55 286.25,467.15 285.5,466.75 284.75,466.34 284,465.92 283.25,465.5 282.51,465.08 281.76,464.65 281.01,464.21 280.26,463.77 279.52,463.33 278.77,462.88 278.02,462.42 277.28,461.96 276.53,461.5 275.78,461.03 275.03,460.56 274.28,460.09 273.54,459.61 272.79,459.12 272.04,458.63 271.3,458.14 270.55,457.65 269.8,457.15 269.05,456.65 268.31,456.14 267.56,455.64 266.81,455.13 266.06,454.61 265.31,454.1 264.57,453.58 263.82,453.06 263.07,452.54 262.33,452.01 261.58,451.48 260.83,450.96 260.08,450.43 259.34,449.89 258.59,449.36 257.84,448.83 257.09,448.29 256.35,447.76 255.6,447.22 254.85,446.68 254.1,446.15 253.36,445.61 252.61,445.07 251.86,444.54 251.11,444 250.37,443.47 249.62,442.93 248.87,442.4 248.12,441.86 247.38,441.33 246.63,440.8 245.88,440.27 245.13,439.75 244.39,439.22 243.64,438.7 242.89,438.18 242.14,437.66 241.4,437.15 240.65,436.64 239.9,436.13 239.15,435.62 238.41,435.12 237.66,434.63 236.91,434.13 236.16,433.64 235.42,433.16 234.67,432.68 233.92,432.2 233.17,431.73 232.43,431.27 231.68,430.81 230.93,430.35 230.18,429.91 229.44,429.46 228.69,429.03 227.94,428.6 227.19,428.17 226.45,427.76 225.7,427.35 224.95,426.94 224.2,426.55 223.46,426.16 222.71,425.78 221.96,425.41 221.21,425.04 220.47,424.69 219.72,424.34 218.97,424 218.22,423.67 217.48,423.35 216.73,423.03 215.98,422.73 215.23,422.43 214.49,422.15 213.74,421.87 212.99,421.61 212.24,421.35 211.5,421.1 210.75,420.87 210,420.64 209.25,420.42 208.51,420.22 207.76,420.02 207.01,419.84 206.26,419.67 205.52,419.5 204.77,419.35 204.02,419.21 203.27,419.08 202.53,418.96 201.78,418.85 201.03,418.76 200.28,418.67 199.54,418.6 198.79,418.53 198.04,418.48 197.29,418.44 196.55,418.41 195.8,418.4 195.05,418.39 194.3,418.4 193.56,418.41 192.81,418.44 192.06,418.48 191.31,418.53 190.57,418.6 189.82,418.67 189.07,418.76 188.32,418.85 187.57,418.96 186.83,419.08 186.08,419.21 185.33,419.35 184.59,419.5 183.84,419.67 183.09,419.84 182.34,420.02 181.6,420.22 180.85,420.42 180.1,420.64 179.35,420.87 178.61,421.1 177.86,421.35 177.11,421.61 176.36,421.87 175.62,422.15 174.87,422.43 174.12,422.73 173.37,423.03 172.62,423.35 171.88,423.67 171.13,424 170.38,424.34 169.63,424.69 168.89,425.04 168.14,425.41 167.39,425.78 166.65,426.16 165.9,426.55 165.15,426.94 164.4,427.35 163.66,427.76 162.91,428.17 162.16,428.6 161.41,429.03 160.67,429.46 159.92,429.91 159.17,430.35 158.42,430.81 157.68,431.27 156.93,431.73 156.18,432.2 155.43,432.68 154.69,433.16 153.94,433.64 153.19,434.13 152.44,434.63 151.69,435.12 150.95,435.62 150.2,436.13 149.45,436.64 148.71,437.15 147.96,437.66 147.21,438.18 146.46,438.7 145.72,439.22 144.97,439.75 144.22,440.27 143.47,440.8 142.73,441.33 141.98,441.86 141.23,442.4 140.48,442.93 139.74,443.47 138.99,444 138.24,444.54 137.49,445.07 136.75,445.61 136,446.15 135.25,446.68 134.5,447.22 133.75,447.76 133.01,448.29 132.26,448.83 131.51,449.36 130.77,449.89 130.02,450.43 129.27,450.96 128.52,451.48 127.78,452.01 127.03,452.54 126.28,453.06 125.53,453.58 124.79,454.1 124.04,454.61 123.29,455.13 122.54,455.64 121.8,456.14 121.05,456.65 120.3,457.15 119.55,457.65 118.81,458.14 118.06,458.63 117.31,459.12 116.56,459.61 115.81,460.09 115.07,460.56 114.32,461.03 113.57,461.5 112.83,461.96 112.08,462.42 111.33,462.88 110.58,463.33 109.84,463.77 109.09,464.21 108.34,464.65 107.59,465.08 106.84,465.5 106.1,465.92 105.35,466.34 104.6,466.75 103.86,467.15 103.11,467.55 102.36,467.94 101.61,468.33 100.87,468.71 100.12,469.09 99.37,469.46 98.62,469.82 97.88,470.18 97.13,470.53 96.38,470.88 95.63,471.22 94.88,471.55 94.14,471.88 93.39,472.2 92.64,472.51 91.9,472.82 91.15,473.12 90.4,473.41 89.65,473.7 88.91,473.98 88.16,474.26 87.41,474.52 86.66,474.78 85.92,475.04 85.17,475.28 84.42,475.52 83.67,475.76 82.92,475.98 82.18,476.2 81.43,476.41 80.68,476.62 79.94,476.81 79.19,477 78.44,477.19 77.69,477.36 76.94,477.53 76.2,477.69 75.45,477.85 74.7,477.99 73.95,478.13 73.21,478.26 72.46,478.39 71.71,478.5 70.97,478.61 70.22,478.71 69.47,478.81 68.72,478.89 67.97,478.97 67.23,479.05 66.48,479.11 65.73,479.17 64.98,479.22 64.24,479.26 63.49,479.29 62.74,479.32 61.99,479.34 61.25,479.35 60.5,479.35" fill="#000"/><polyline points="60.5,478.04 61.25,478.04 61.99,478.03 62.74,478.01 63.49,477.98 64.24,477.94 64.98,477.89 65.73,477.84 66.48,477.78 67.23,477.71 67.97,477.63 68.72,477.54 69.47,477.45 70.22,477.34 70.97,477.23 71.71,477.11 72.46,476.98 73.21,476.85 73.95,476.7 74.7,476.55 75.45,476.39 76.2,476.22 76.94,476.04 77.69,475.86 78.44,475.66 79.19,475.46 79.94,475.25 80.68,475.04 81.43,474.81 82.18,474.58 82.92,474.34 83.67,474.09 84.42,473.84 85.17,473.57 85.92,473.3 86.66,473.02 87.41,472.73 88.16,472.44 88.91,472.14 89.65,471.83 90.4,471.51 91.15,471.19 91.9,470.85 92.64,470.51 93.39,470.17 94.14,469.81 94.88,469.45 95.63,469.09 96.38,468.71 97.13,468.33 97.88,467.94 98.62,467.55 99.37,467.14 100.12,466.73 100.87,466.32 101.61,465.9 102.36,465.47 103.11,465.03 103.86,464.59 104.6,464.14 105.35,463.69 106.1,463.23 106.84,462.77 107.59,462.29 108.34,461.82 109.09,461.33 109.84,460.84 110.58,460.35 111.33,459.85 112.08,459.35 112.83,458.84 113.57,458.32 114.32,457.8 115.07,457.28 115.81,456.75 116.56,456.21 117.31,455.67 118.06,455.13 118.81,454.58 119.55,454.03 120.3,453.48 121.05,452.92 121.8,452.35 122.54,451.79 123.29,451.22 124.04,450.64 124.79,450.07 125.53,449.49 126.28,448.9 127.03,448.32 127.78,447.73 128.52,447.14 129.27,446.55 130.02,445.96 130.77,445.36 131.51,444.76 132.26,444.16 133.01,443.56 133.75,442.96 134.5,442.36 135.25,441.76 136,441.15 136.75,440.55 137.49,439.95 138.24,439.34 138.99,438.74 139.74,438.13 140.48,437.53 141.23,436.93 141.98,436.33 142.73,435.73 143.47,435.13 144.22,434.53 144.97,433.94 145.72,433.34 146.46,432.75 147.21,432.17 147.96,431.58 148.71,431 149.45,430.42 150.2,429.84 150.95,429.27 151.69,428.7 152.44,428.14 153.19,427.58 153.94,427.02 154.69,426.47 155.43,425.93 156.18,425.39 156.93,424.85 157.68,424.32 158.42,423.8 159.17,423.28 159.92,422.77 160.67,422.27 161.41,421.77 162.16,421.28 162.91,420.8 163.66,420.32 164.4,419.86 165.15,419.4 165.9,418.95 166.65,418.5 167.39,418.07 168.14,417.64 168.89,417.23 169.63,416.82 170.38,416.42 171.13,416.03 171.88,415.65 172.62,415.28 173.37,414.93 174.12,414.58 174.87,414.24 175.62,413.91 176.36,413.6 177.11,413.29 177.86,413 178.61,412.72 179.35,412.44 180.1,412.18 180.85,411.94 181.6,411.7 182.34,411.48 183.09,411.27 183.84,411.07 184.59,410.88 185.33,410.7 186.08,410.54 186.83,410.39 187.57,410.26 188.32,410.13 189.07,410.02 189.82,409.92 190.57,409.84 191.31,409.77 192.06,409.71 192.81,409.66 193.56,409.63 194.3,409.61 195.05,409.6 195.8,409.61 196.55,409.63 197.29,409.66 198.04,409.71 198.79,409.77 199.54,409.84 200.28,409.92 201.03,410.02 201.78,410.13 202.53,410.26 203.27,410.39 204.02,410.54 204.77,410.7 205.52,410.88 206.26,411.07 207.01,411.27 207.76,411.48 208.51,411.7 209.25,411.94 210,412.18 210.75,412.44 211.5,412.72 212.24,413 212.99,413.29 213.74,413.6 214.49,413.91 215.23,414.24 215.98,414.58 216.73,414.93 217.48,415.28 218.22,415.65 218.97,416.03 219.72,416.42 220.47,416.82 221.21,417.23 221.96,417.64 222.71,418.07 223.46,418.5 224.2,418.95 224.95,419.4 225.7,419.86 226.45,420.32 227.19,420.8 227.94,421.28 228.69,421.77 229.44,422.27 230.18,422.77 230.93,423.28 231.68,423.8 232.43,424.32 233.17,424.85 233.92,425.39 234.67,425.93 235.42,426.47 236.16,427.02 236.91,427.58 237.66,428.14 238.41,428.7 239.15,429.27 239.9,429.84 240.65,430.42 241.4,431 242.14,431.58 242.89,432.17 243.64,432.75 244.39,433.34 245.13,433.94 245.88,434.53 246.63,435.13 247.38,435.73 248.12,436.33 248.87,436.93 249.62,437.53 250.37,438.13 251.11,438.74 251.86,439.34 252.61,439.95 253.36,440.55 254.1,441.15 254.85,441.76 255.6,442.36 256.35,442.96 257.09,443.56 257.84,444.16 258.59,444.76 259.34,445.36 260.08,445.96 260.83,446.55 261.58,447.14 262.33,447.73 263.07,448.32 263.82,448.9 264.57,449.49 265.31,450.07 266.06,450.64 266.81,451.22 267.56,451.79 268.31,452.35 269.05,452.92 269.8,453.48 270.55,454.03 271.3,454.58 272.04,455.13 272.79,455.67 273.54,456.21 274.28,456.75 275.03,457.28 275.78,457.8 276.53,458.32 277.28,458.84 278.02,459.35 278.77,459.85 279.52,460.35 280.26,460.84 281.01,461.33 281.76,461.82 282.51,462.29 283.25,462.77 284,463.23 284.75,463.69 285.5,464.14 286.25,464.59 286.99,465.03 287.74,465.47 288.49,465.9 289.24,466.32 289.98,466.73 290.73,467.14 291.48,467.55 292.23,467.94 292.97,468.33 293.72,468.71 294.47,469.09 295.22,469.45 295.96,469.81 296.71,470.17 297.46,470.51 298.21,470.85 298.95,471.19 299.7,471.51 300.45,471.83 301.2,472.14 301.94,472.44 302.69,472.73 303.44,473.02 304.19,473.3 304.93,473.57 305.68,473.84 306.43,474.09 307.18,474.34 307.92,474.58 308.67,474.81 309.42,475.04 310.17,475.25 310.91,475.46 311.66,475.66 312.41,475.86 313.16,476.04 313.9,476.22 314.65,476.39 315.4,476.55 316.14,476.7 316.89,476.85 317.64,476.98 318.39,477.11 319.14,477.23 319.88,477.34 320.63,477.45 321.38,477.54 322.12,477.63 322.87,477.71 323.62,477.78 324.37,477.84 325.12,477.89 325.86,477.94 326.61,477.98 327.36,478.01 328.11,478.03 328.85,478.04 329.6,478.04" fill="none" stroke="#00ff00" stroke-width="2.2" stroke-linejoin="round"/></g><g clip-path="url(#clipd)"><polygon points="414.8,474.86 415.55,474.86 416.3,474.85 417.04,474.82 417.79,474.79 418.54,474.75 419.29,474.7 420.03,474.64 420.78,474.58 421.53,474.5 422.28,474.42 423.02,474.32 423.77,474.22 424.52,474.11 425.26,473.99 426.01,473.86 426.76,473.72 427.51,473.57 428.25,473.42 429,473.25 429.75,473.08 430.5,472.9 431.25,472.71 431.99,472.51 432.74,472.3 433.49,472.08 434.24,471.86 434.98,471.62 435.73,471.38 436.48,471.13 437.23,470.87 437.97,470.6 438.72,470.32 439.47,470.04 440.22,469.74 440.96,469.44 441.71,469.13 442.46,468.81 443.21,468.49 443.95,468.15 444.7,467.81 445.45,467.46 446.19,467.1 446.94,466.73 447.69,466.36 448.44,465.97 449.19,465.58 449.93,465.19 450.68,464.78 451.43,464.37 452.18,463.94 452.92,463.52 453.67,463.08 454.42,462.64 455.17,462.19 455.91,461.73 456.66,461.26 457.41,460.79 458.16,460.31 458.9,459.83 459.65,459.33 460.4,458.83 461.15,458.33 461.89,457.81 462.64,457.3 463.39,456.77 464.13,456.24 464.88,455.7 465.63,455.16 466.38,454.61 467.12,454.05 467.87,453.49 468.62,452.92 469.37,452.35 470.12,451.78 470.86,451.19 471.61,450.6 472.36,450.01 473.11,449.41 473.85,448.81 474.6,448.21 475.35,447.59 476.1,446.98 476.84,446.36 477.59,445.74 478.34,445.11 479.09,444.48 479.83,443.85 480.58,443.21 481.33,442.57 482.08,441.92 482.82,441.28 483.57,440.63 484.32,439.98 485.07,439.32 485.81,438.67 486.56,438.01 487.31,437.35 488.06,436.69 488.8,436.03 489.55,435.37 490.3,434.7 491.05,434.04 491.79,433.37 492.54,432.71 493.29,432.04 494.04,431.38 494.78,430.72 495.53,430.05 496.28,429.39 497.03,428.73 497.77,428.07 498.52,427.41 499.27,426.75 500.01,426.1 500.76,425.44 501.51,424.79 502.26,424.15 503,423.5 503.75,422.86 504.5,422.23 505.25,421.59 506,420.96 506.74,420.34 507.49,419.72 508.24,419.1 508.99,418.49 509.73,417.89 510.48,417.29 511.23,416.7 511.98,416.11 512.72,415.53 513.47,414.95 514.22,414.39 514.97,413.83 515.71,413.27 516.46,412.73 517.21,412.19 517.96,411.66 518.7,411.14 519.45,410.63 520.2,410.13 520.95,409.63 521.69,409.15 522.44,408.68 523.19,408.21 523.94,407.76 524.68,407.31 525.43,406.88 526.18,406.46 526.93,406.05 527.67,405.64 528.42,405.26 529.17,404.88 529.91,404.51 530.66,404.16 531.41,403.82 532.16,403.49 532.9,403.17 533.65,402.87 534.4,402.58 535.15,402.3 535.89,402.04 536.64,401.79 537.39,401.55 538.14,401.33 538.88,401.12 539.63,400.93 540.38,400.74 541.13,400.58 541.88,400.42 542.62,400.28 543.37,400.16 544.12,400.05 544.87,399.95 545.61,399.87 546.36,399.81 547.11,399.76 547.86,399.72 548.6,399.7 549.35,399.69 550.1,399.7 550.85,399.72 551.59,399.76 552.34,399.81 553.09,399.87 553.84,399.95 554.58,400.05 555.33,400.16 556.08,400.28 556.83,400.42 557.57,400.58 558.32,400.74 559.07,400.93 559.82,401.12 560.56,401.33 561.31,401.55 562.06,401.79 562.81,402.04 563.55,402.3 564.3,402.58 565.05,402.87 565.8,403.17 566.54,403.49 567.29,403.82 568.04,404.16 568.79,404.51 569.53,404.88 570.28,405.26 571.03,405.64 571.78,406.05 572.52,406.46 573.27,406.88 574.02,407.31 574.76,407.76 575.51,408.21 576.26,408.68 577.01,409.15 577.75,409.63 578.5,410.13 579.25,410.63 580,411.14 580.75,411.66 581.49,412.19 582.24,412.73 582.99,413.27 583.74,413.83 584.48,414.39 585.23,414.95 585.98,415.53 586.73,416.11 587.47,416.7 588.22,417.29 588.97,417.89 589.72,418.49 590.46,419.1 591.21,419.72 591.96,420.34 592.71,420.96 593.45,421.59 594.2,422.23 594.95,422.86 595.7,423.5 596.44,424.15 597.19,424.79 597.94,425.44 598.69,426.1 599.43,426.75 600.18,427.41 600.93,428.07 601.67,428.73 602.42,429.39 603.17,430.05 603.92,430.72 604.67,431.38 605.41,432.04 606.16,432.71 606.91,433.37 607.65,434.04 608.4,434.7 609.15,435.37 609.9,436.03 610.64,436.69 611.39,437.35 612.14,438.01 612.89,438.67 613.63,439.32 614.38,439.98 615.13,440.63 615.88,441.28 616.62,441.92 617.37,442.57 618.12,443.21 618.87,443.85 619.62,444.48 620.36,445.11 621.11,445.74 621.86,446.36 622.61,446.98 623.35,447.59 624.1,448.21 624.85,448.81 625.6,449.41 626.34,450.01 627.09,450.6 627.84,451.19 628.59,451.78 629.33,452.35 630.08,452.92 630.83,453.49 631.58,454.05 632.32,454.61 633.07,455.16 633.82,455.7 634.57,456.24 635.31,456.77 636.06,457.3 636.81,457.81 637.56,458.33 638.3,458.83 639.05,459.33 639.8,459.83 640.55,460.31 641.29,460.79 642.04,461.26 642.79,461.73 643.54,462.19 644.28,462.64 645.03,463.08 645.78,463.52 646.53,463.94 647.27,464.37 648.02,464.78 648.77,465.19 649.52,465.58 650.26,465.97 651.01,466.36 651.76,466.73 652.5,467.1 653.25,467.46 654,467.81 654.75,468.15 655.5,468.49 656.24,468.81 656.99,469.13 657.74,469.44 658.49,469.74 659.23,470.04 659.98,470.32 660.73,470.6 661.48,470.87 662.22,471.13 662.97,471.38 663.72,471.62 664.47,471.86 665.21,472.08 665.96,472.3 666.71,472.51 667.46,472.71 668.2,472.9 668.95,473.08 669.7,473.25 670.45,473.42 671.19,473.57 671.94,473.72 672.69,473.86 673.44,473.99 674.18,474.11 674.93,474.22 675.68,474.32 676.42,474.42 677.17,474.5 677.92,474.58 678.67,474.64 679.41,474.7 680.16,474.75 680.91,474.79 681.66,474.82 682.4,474.85 683.15,474.86 683.9,474.86 683.9,477.48 683.15,477.48 682.4,477.47 681.66,477.45 680.91,477.42 680.16,477.39 679.41,477.35 678.67,477.3 677.92,477.24 677.17,477.17 676.42,477.1 675.68,477.02 674.93,476.94 674.18,476.84 673.44,476.74 672.69,476.63 671.94,476.51 671.19,476.39 670.45,476.26 669.7,476.12 668.95,475.97 668.2,475.82 667.46,475.65 666.71,475.49 665.96,475.31 665.21,475.13 664.47,474.94 663.72,474.74 662.97,474.53 662.22,474.32 661.48,474.1 660.73,473.88 659.98,473.64 659.23,473.4 658.49,473.15 657.74,472.9 656.99,472.64 656.24,472.37 655.5,472.09 654.75,471.81 654,471.52 653.25,471.23 652.5,470.93 651.76,470.62 651.01,470.3 650.26,469.98 649.52,469.65 648.77,469.32 648.02,468.98 647.27,468.63 646.53,468.28 645.78,467.92 645.03,467.56 644.28,467.19 643.54,466.81 642.79,466.43 642.04,466.04 641.29,465.64 640.55,465.24 639.8,464.84 639.05,464.43 638.3,464.01 637.56,463.59 636.81,463.16 636.06,462.73 635.31,462.29 634.57,461.85 633.82,461.41 633.07,460.95 632.32,460.5 631.58,460.04 630.83,459.57 630.08,459.1 629.33,458.63 628.59,458.15 627.84,457.67 627.09,457.19 626.34,456.7 625.6,456.2 624.85,455.71 624.1,455.21 623.35,454.7 622.61,454.2 621.86,453.69 621.11,453.18 620.36,452.66 619.62,452.15 618.87,451.63 618.12,451.1 617.37,450.58 616.62,450.05 615.88,449.52 615.13,448.99 614.38,448.46 613.63,447.93 612.89,447.4 612.14,446.86 611.39,446.32 610.64,445.79 609.9,445.25 609.15,444.71 608.4,444.17 607.65,443.63 606.91,443.09 606.16,442.56 605.41,442.02 604.67,441.48 603.92,440.94 603.17,440.41 602.42,439.87 601.67,439.34 600.93,438.81 600.18,438.28 599.43,437.75 598.69,437.22 597.94,436.7 597.19,436.18 596.44,435.66 595.7,435.14 594.95,434.63 594.2,434.12 593.45,433.62 592.71,433.11 591.96,432.61 591.21,432.12 590.46,431.63 589.72,431.14 588.97,430.66 588.22,430.19 587.47,429.71 586.73,429.25 585.98,428.79 585.23,428.33 584.48,427.88 583.74,427.44 582.99,427 582.24,426.57 581.49,426.14 580.75,425.73 580,425.31 579.25,424.91 578.5,424.51 577.75,424.13 577.01,423.74 576.26,423.37 575.51,423 574.76,422.65 574.02,422.3 573.27,421.96 572.52,421.63 571.78,421.3 571.03,420.99 570.28,420.68 569.53,420.39 568.79,420.1 568.04,419.82 567.29,419.56 566.54,419.3 565.8,419.05 565.05,418.82 564.3,418.59 563.55,418.37 562.81,418.17 562.06,417.97 561.31,417.79 560.56,417.61 559.82,417.45 559.07,417.3 558.32,417.15 557.57,417.02 556.83,416.9 556.08,416.8 555.33,416.7 554.58,416.61 553.84,416.54 553.09,416.48 552.34,416.42 551.59,416.38 550.85,416.36 550.1,416.34 549.35,416.33 548.6,416.34 547.86,416.36 547.11,416.38 546.36,416.42 545.61,416.48 544.87,416.54 544.12,416.61 543.37,416.7 542.62,416.8 541.88,416.9 541.13,417.02 540.38,417.15 539.63,417.3 538.88,417.45 538.14,417.61 537.39,417.79 536.64,417.97 535.89,418.17 535.15,418.37 534.4,418.59 533.65,418.82 532.9,419.05 532.16,419.3 531.41,419.56 530.66,419.82 529.91,420.1 529.17,420.39 528.42,420.68 527.67,420.99 526.93,421.3 526.18,421.63 525.43,421.96 524.68,422.3 523.94,422.65 523.19,423 522.44,423.37 521.69,423.74 520.95,424.13 520.2,424.51 519.45,424.91 518.7,425.31 517.96,425.73 517.21,426.14 516.46,426.57 515.71,427 514.97,427.44 514.22,427.88 513.47,428.33 512.72,428.79 511.98,429.25 511.23,429.71 510.48,430.19 509.73,430.66 508.99,431.14 508.24,431.63 507.49,432.12 506.74,432.61 506,433.11 505.25,433.62 504.5,434.12 503.75,434.63 503,435.14 502.26,435.66 501.51,436.18 500.76,436.7 500.01,437.22 499.27,437.75 498.52,438.28 497.77,438.81 497.03,439.34 496.28,439.87 495.53,440.41 494.78,440.94 494.04,441.48 493.29,442.02 492.54,442.56 491.79,443.09 491.05,443.63 490.3,444.17 489.55,444.71 488.8,445.25 488.06,445.79 487.31,446.32 486.56,446.86 485.81,447.4 485.07,447.93 484.32,448.46 483.57,448.99 482.82,449.52 482.08,450.05 481.33,450.58 480.58,451.1 479.83,451.63 479.09,452.15 478.34,452.66 477.59,453.18 476.84,453.69 476.1,454.2 475.35,454.7 474.6,455.21 473.85,455.71 473.11,456.2 472.36,456.7 471.61,457.19 470.86,457.67 470.12,458.15 469.37,458.63 468.62,459.1 467.87,459.57 467.12,460.04 466.38,460.5 465.63,460.95 464.88,461.41 464.13,461.85 463.39,462.29 462.64,462.73 461.89,463.16 461.15,463.59 460.4,464.01 459.65,464.43 458.9,464.84 458.16,465.24 457.41,465.64 456.66,466.04 455.91,466.43 455.17,466.81 454.42,467.19 453.67,467.56 452.92,467.92 452.18,468.28 451.43,468.63 450.68,468.98 449.93,469.32 449.19,469.65 448.44,469.98 447.69,470.3 446.94,470.62 446.19,470.93 445.45,471.23 444.7,471.52 443.95,471.81 443.21,472.09 442.46,472.37 441.71,472.64 440.96,472.9 440.22,473.15 439.47,473.4 438.72,473.64 437.97,473.88 437.23,474.1 436.48,474.32 435.73,474.53 434.98,474.74 434.24,474.94 433.49,475.13 432.74,475.31 431.99,475.49 431.25,475.65 430.5,475.82 429.75,475.97 429,476.12 428.25,476.26 427.51,476.39 426.76,476.51 426.01,476.63 425.26,476.74 424.52,476.84 423.77,476.94 423.02,477.02 422.28,477.1 421.53,477.17 420.78,477.24 420.03,477.3 419.29,477.35 418.54,477.39 417.79,477.42 417.04,477.45 416.3,477.47 415.55,477.48 414.8,477.48" fill="#000"/><polyline points="414.8,476.17 415.55,476.17 416.3,476.16 417.04,476.14 417.79,476.11 418.54,476.07 419.29,476.02 420.03,475.97 420.78,475.91 421.53,475.84 422.28,475.76 423.02,475.67 423.77,475.57 424.52,475.47 425.26,475.36 426.01,475.24 426.76,475.11 427.51,474.97 428.25,474.83 429,474.67 429.75,474.51 430.5,474.34 431.25,474.17 431.99,473.98 432.74,473.79 433.49,473.59 434.24,473.38 434.98,473.16 435.73,472.93 436.48,472.7 437.23,472.46 437.97,472.21 438.72,471.95 439.47,471.69 440.22,471.41 440.96,471.13 441.71,470.85 442.46,470.55 443.21,470.25 443.95,469.94 444.7,469.62 445.45,469.29 446.19,468.96 446.94,468.62 447.69,468.27 448.44,467.92 449.19,467.56 449.93,467.19 450.68,466.81 451.43,466.43 452.18,466.04 452.92,465.64 453.67,465.24 454.42,464.83 455.17,464.41 455.91,463.99 456.66,463.56 457.41,463.12 458.16,462.68 458.9,462.23 459.65,461.78 460.4,461.32 461.15,460.85 461.89,460.38 462.64,459.9 463.39,459.41 464.13,458.92 464.88,458.43 465.63,457.93 466.38,457.42 467.12,456.91 467.87,456.39 468.62,455.87 469.37,455.34 470.12,454.81 470.86,454.28 471.61,453.74 472.36,453.19 473.11,452.64 473.85,452.09 474.6,451.53 475.35,450.97 476.1,450.41 476.84,449.84 477.59,449.27 478.34,448.69 479.09,448.11 479.83,447.53 480.58,446.95 481.33,446.36 482.08,445.77 482.82,445.18 483.57,444.59 484.32,443.99 485.07,443.4 485.81,442.8 486.56,442.2 487.31,441.59 488.06,440.99 488.8,440.39 489.55,439.78 490.3,439.18 491.05,438.57 491.79,437.97 492.54,437.36 493.29,436.75 494.04,436.15 494.78,435.54 495.53,434.94 496.28,434.34 497.03,433.74 497.77,433.14 498.52,432.54 499.27,431.94 500.01,431.35 500.76,430.75 501.51,430.16 502.26,429.58 503,428.99 503.75,428.41 504.5,427.84 505.25,427.26 506,426.69 506.74,426.13 507.49,425.57 508.24,425.01 508.99,424.46 509.73,423.91 510.48,423.37 511.23,422.83 511.98,422.3 512.72,421.78 513.47,421.26 514.22,420.75 514.97,420.24 515.71,419.75 516.46,419.25 517.21,418.77 517.96,418.29 518.7,417.83 519.45,417.36 520.2,416.91 520.95,416.47 521.69,416.03 522.44,415.61 523.19,415.19 523.94,414.78 524.68,414.38 525.43,413.99 526.18,413.61 526.93,413.24 527.67,412.88 528.42,412.53 529.17,412.19 529.91,411.87 530.66,411.55 531.41,411.24 532.16,410.95 532.9,410.67 533.65,410.39 534.4,410.13 535.15,409.89 535.89,409.65 536.64,409.42 537.39,409.21 538.14,409.01 538.88,408.82 539.63,408.65 540.38,408.49 541.13,408.34 541.88,408.2 542.62,408.08 543.37,407.96 544.12,407.87 544.87,407.78 545.61,407.71 546.36,407.65 547.11,407.6 547.86,407.57 548.6,407.55 549.35,407.54 550.1,407.55 550.85,407.57 551.59,407.6 552.34,407.65 553.09,407.71 553.84,407.78 554.58,407.87 555.33,407.96 556.08,408.08 556.83,408.2 557.57,408.34 558.32,408.49 559.07,408.65 559.82,408.82 560.56,409.01 561.31,409.21 562.06,409.42 562.81,409.65 563.55,409.89 564.3,410.13 565.05,410.39 565.8,410.67 566.54,410.95 567.29,411.24 568.04,411.55 568.79,411.87 569.53,412.19 570.28,412.53 571.03,412.88 571.78,413.24 572.52,413.61 573.27,413.99 574.02,414.38 574.76,414.78 575.51,415.19 576.26,415.61 577.01,416.03 577.75,416.47 578.5,416.91 579.25,417.36 580,417.83 580.75,418.29 581.49,418.77 582.24,419.25 582.99,419.75 583.74,420.24 584.48,420.75 585.23,421.26 585.98,421.78 586.73,422.3 587.47,422.83 588.22,423.37 588.97,423.91 589.72,424.46 590.46,425.01 591.21,425.57 591.96,426.13 592.71,426.69 593.45,427.26 594.2,427.84 594.95,428.41 595.7,428.99 596.44,429.58 597.19,430.16 597.94,430.75 598.69,431.35 599.43,431.94 600.18,432.54 600.93,433.14 601.67,433.74 602.42,434.34 603.17,434.94 603.92,435.54 604.67,436.15 605.41,436.75 606.16,437.36 606.91,437.97 607.65,438.57 608.4,439.18 609.15,439.78 609.9,440.39 610.64,440.99 611.39,441.59 612.14,442.2 612.89,442.8 613.63,443.4 614.38,443.99 615.13,444.59 615.88,445.18 616.62,445.77 617.37,446.36 618.12,446.95 618.87,447.53 619.62,448.11 620.36,448.69 621.11,449.27 621.86,449.84 622.61,450.41 623.35,450.97 624.1,451.53 624.85,452.09 625.6,452.64 626.34,453.19 627.09,453.74 627.84,454.28 628.59,454.81 629.33,455.34 630.08,455.87 630.83,456.39 631.58,456.91 632.32,457.42 633.07,457.93 633.82,458.43 634.57,458.92 635.31,459.41 636.06,459.9 636.81,460.38 637.56,460.85 638.3,461.32 639.05,461.78 639.8,462.23 640.55,462.68 641.29,463.12 642.04,463.56 642.79,463.99 643.54,464.41 644.28,464.83 645.03,465.24 645.78,465.64 646.53,466.04 647.27,466.43 648.02,466.81 648.77,467.19 649.52,467.56 650.26,467.92 651.01,468.27 651.76,468.62 652.5,468.96 653.25,469.29 654,469.62 654.75,469.94 655.5,470.25 656.24,470.55 656.99,470.85 657.74,471.13 658.49,471.41 659.23,471.69 659.98,471.95 660.73,472.21 661.48,472.46 662.22,472.7 662.97,472.93 663.72,473.16 664.47,473.38 665.21,473.59 665.96,473.79 666.71,473.98 667.46,474.17 668.2,474.34 668.95,474.51 669.7,474.67 670.45,474.83 671.19,474.97 671.94,475.11 672.69,475.24 673.44,475.36 674.18,475.47 674.93,475.57 675.68,475.67 676.42,475.76 677.17,475.84 677.92,475.91 678.67,475.97 679.41,476.02 680.16,476.07 680.91,476.11 681.66,476.14 682.4,476.16 683.15,476.17 683.9,476.17" fill="none" stroke="#00ff00" stroke-width="2.2" stroke-linejoin="round"/></g><text class="tk" x="54.5" y="215.85" text-anchor="end">200</text><text class="tk" x="54.5" y="178.25" text-anchor="end">220</text><text class="tk" x="54.5" y="140.65" text-anchor="end">240</text><text class="tk" x="54.5" y="103.05" text-anchor="end">260</text><text class="tk" x="54.5" y="65.45" text-anchor="end">280</text><text class="tk" x="54.5" y="27.85" text-anchor="end">300</text><text class="tk" x="60.5" y="244.9" text-anchor="middle">0</text><text class="tk" x="135.25" y="244.9" text-anchor="middle">50</text><path transform="translate(197.39,244.9) scale(0.007910,-0.007910)" d="M515,0V1237L197,1010V1180L530,1409H696V0Z" fill="#262626"/><text class="tk" x="205.5" y="244.9">00</text><path transform="translate(272.14,244.9) scale(0.007910,-0.007910)" d="M515,0V1237L197,1010V1180L530,1409H696V0Z" fill="#262626"/><text class="tk" x="280.25" y="244.9">50</text><text class="lb" x="129.7" y="267.8" textLength="99.8" lengthAdjust="spacingAndGlyphs">Colatitude</text><text class="lp" x="236.7" y="267.8">(</text><circle cx="247.95" cy="256.4" r="2.55" fill="none" stroke="#262626" stroke-width="0.85"/><text class="lp" x="252.8" y="267.8">)</text><text class="lb" transform="translate(16,204.8) rotate(-90)" x="0" y="0" textLength="145" lengthAdjust="spacingAndGlyphs">Radial distance</text><text class="lp" transform="translate(16,51.6) rotate(-90)" x="0" y="0">(</text><text class="lm" transform="translate(16,45.2) rotate(-90)" x="0" y="0" textLength="18.2" lengthAdjust="spacingAndGlyphs">m</text><text class="lp" transform="translate(16,27.4) rotate(-90)" x="0" y="0">)</text><rect x="66.9" y="8.3" width="39.6" height="28" fill="#fff"/><text class="pp" x="71.9" y="28.9">(</text><text class="pt" x="80.2" y="28.3" textLength="12.6" lengthAdjust="spacingAndGlyphs">a</text><text class="pp" x="93.1" y="28.9">)</text><path d="M60.65,0.5V222.65H329.75V0.5" fill="none" stroke="#777777" stroke-width="1.3"/><path d="M60,0.5H330.4" fill="none" stroke="#565656" stroke-width="1"/><path d="M60.65,209.5h3.2M329.75,209.5h-3.2M60.65,171.5h3.2M329.75,171.5h-3.2M60.65,134.5h3.2M329.75,134.5h-3.2M60.65,96.5h3.2M329.75,96.5h-3.2M60.65,59.5h3.2M329.75,59.5h-3.2M60.65,21.5h3.2M329.75,21.5h-3.2M135.5,222.65v-3.2M135.5,0.5v3.2M210.5,222.65v-3.2M210.5,0.5v3.2M284.5,222.65v-3.2M284.5,0.5v3.2" fill="none" stroke="#4a4a4a"/><text class="tk" x="408.8" y="215.85" text-anchor="end">200</text><text class="tk" x="408.8" y="178.25" text-anchor="end">220</text><text class="tk" x="408.8" y="140.65" text-anchor="end">240</text><text class="tk" x="408.8" y="103.05" text-anchor="end">260</text><text class="tk" x="408.8" y="65.45" text-anchor="end">280</text><text class="tk" x="408.8" y="27.85" text-anchor="end">300</text><text class="tk" x="414.8" y="244.9" text-anchor="middle">0</text><text class="tk" x="489.55" y="244.9" text-anchor="middle">50</text><path transform="translate(551.69,244.9) scale(0.007910,-0.007910)" d="M515,0V1237L197,1010V1180L530,1409H696V0Z" fill="#262626"/><text class="tk" x="559.8" y="244.9">00</text><path transform="translate(626.44,244.9) scale(0.007910,-0.007910)" d="M515,0V1237L197,1010V1180L530,1409H696V0Z" fill="#262626"/><text class="tk" x="634.55" y="244.9">50</text><text class="lb" x="484" y="267.8" textLength="99.8" lengthAdjust="spacingAndGlyphs">Colatitude</text><text class="lp" x="591" y="267.8">(</text><circle cx="602.25" cy="256.4" r="2.55" fill="none" stroke="#262626" stroke-width="0.85"/><text class="lp" x="607.1" y="267.8">)</text><text class="lb" transform="translate(370.3,204.8) rotate(-90)" x="0" y="0" textLength="145" lengthAdjust="spacingAndGlyphs">Radial distance</text><text class="lp" transform="translate(370.3,51.6) rotate(-90)" x="0" y="0">(</text><text class="lm" transform="translate(370.3,45.2) rotate(-90)" x="0" y="0" textLength="18.2" lengthAdjust="spacingAndGlyphs">m</text><text class="lp" transform="translate(370.3,27.4) rotate(-90)" x="0" y="0">)</text><rect x="421.2" y="8.3" width="40.8" height="28" fill="#fff"/><text class="pp" x="425.9" y="28.9">(</text><text class="pt" x="434.6" y="28.3" textLength="13.2" lengthAdjust="spacingAndGlyphs">b</text><text class="pp" x="448.6" y="28.9">)</text><path d="M414.95,0.5V222.65H683.6V0.5" fill="none" stroke="#777777" stroke-width="1.3"/><path d="M414.3,0.5H684.25" fill="none" stroke="#565656" stroke-width="1"/><path d="M414.95,209.5h3.2M683.6,209.5h-3.2M414.95,171.5h3.2M683.6,171.5h-3.2M414.95,134.5h3.2M683.6,134.5h-3.2M414.95,96.5h3.2M683.6,96.5h-3.2M414.95,59.5h3.2M683.6,59.5h-3.2M414.95,21.5h3.2M683.6,21.5h-3.2M489.5,222.65v-3.2M489.5,0.5v3.2M564.5,222.65v-3.2M564.5,0.5v3.2M639.5,222.65v-3.2M639.5,0.5v3.2" fill="none" stroke="#4a4a4a"/><text class="tk" x="54.5" y="523.85" text-anchor="end">200</text><text class="tk" x="54.5" y="486.45" text-anchor="end">220</text><text class="tk" x="54.5" y="449.05" text-anchor="end">240</text><text class="tk" x="54.5" y="411.65" text-anchor="end">260</text><text class="tk" x="54.5" y="374.25" text-anchor="end">280</text><text class="tk" x="54.5" y="336.85" text-anchor="end">300</text><text class="tk" x="60.5" y="553.8" text-anchor="middle">0</text><text class="tk" x="135.25" y="553.8" text-anchor="middle">50</text><path transform="translate(197.39,553.8) scale(0.007910,-0.007910)" d="M515,0V1237L197,1010V1180L530,1409H696V0Z" fill="#262626"/><text class="tk" x="205.5" y="553.8">00</text><path transform="translate(272.14,553.8) scale(0.007910,-0.007910)" d="M515,0V1237L197,1010V1180L530,1409H696V0Z" fill="#262626"/><text class="tk" x="280.25" y="553.8">50</text><text class="lb" x="129.7" y="576.7" textLength="99.8" lengthAdjust="spacingAndGlyphs">Colatitude</text><text class="lp" x="236.7" y="576.7">(</text><circle cx="247.95" cy="565.3" r="2.55" fill="none" stroke="#262626" stroke-width="0.85"/><text class="lp" x="252.8" y="576.7">)</text><text class="lb" transform="translate(16,513.7) rotate(-90)" x="0" y="0" textLength="145" lengthAdjust="spacingAndGlyphs">Radial distance</text><text class="lp" transform="translate(16,360.5) rotate(-90)" x="0" y="0">(</text><text class="lm" transform="translate(16,354.1) rotate(-90)" x="0" y="0" textLength="18.2" lengthAdjust="spacingAndGlyphs">m</text><text class="lp" transform="translate(16,336.3) rotate(-90)" x="0" y="0">)</text><rect x="66.9" y="317.2" width="37.6" height="28" fill="#fff"/><text class="pp" x="71.4" y="337.8">(</text><text class="pt" x="79.9" y="337.2" textLength="11.2" lengthAdjust="spacingAndGlyphs">c</text><text class="pp" x="91.1" y="337.8">)</text><path d="M60.65,309V531.2H329.75V309" fill="none" stroke="#777777" stroke-width="1.3"/><path d="M60,309H330.4" fill="none" stroke="#777777" stroke-width="1"/><path d="M60.65,517.5h3.2M329.75,517.5h-3.2M60.65,480.5h3.2M329.75,480.5h-3.2M60.65,442.5h3.2M329.75,442.5h-3.2M60.65,405.5h3.2M329.75,405.5h-3.2M60.65,367.5h3.2M329.75,367.5h-3.2M60.65,330.5h3.2M329.75,330.5h-3.2M135.5,531.2v-3.2M135.5,309v3.2M210.5,531.2v-3.2M210.5,309v3.2M284.5,531.2v-3.2M284.5,309v3.2" fill="none" stroke="#4a4a4a"/><text class="tk" x="408.8" y="523.85" text-anchor="end">200</text><text class="tk" x="408.8" y="486.45" text-anchor="end">220</text><text class="tk" x="408.8" y="449.05" text-anchor="end">240</text><text class="tk" x="408.8" y="411.65" text-anchor="end">260</text><text class="tk" x="408.8" y="374.25" text-anchor="end">280</text><text class="tk" x="408.8" y="336.85" text-anchor="end">300</text><text class="tk" x="414.8" y="553.8" text-anchor="middle">0</text><text class="tk" x="489.55" y="553.8" text-anchor="middle">50</text><path transform="translate(551.69,553.8) scale(0.007910,-0.007910)" d="M515,0V1237L197,1010V1180L530,1409H696V0Z" fill="#262626"/><text class="tk" x="559.8" y="553.8">00</text><path transform="translate(626.44,553.8) scale(0.007910,-0.007910)" d="M515,0V1237L197,1010V1180L530,1409H696V0Z" fill="#262626"/><text class="tk" x="634.55" y="553.8">50</text><text class="lb" x="484" y="576.7" textLength="99.8" lengthAdjust="spacingAndGlyphs">Colatitude</text><text class="lp" x="591" y="576.7">(</text><circle cx="602.25" cy="565.3" r="2.55" fill="none" stroke="#262626" stroke-width="0.85"/><text class="lp" x="607.1" y="576.7">)</text><text class="lb" transform="translate(370.3,513.7) rotate(-90)" x="0" y="0" textLength="145" lengthAdjust="spacingAndGlyphs">Radial distance</text><text class="lp" transform="translate(370.3,360.5) rotate(-90)" x="0" y="0">(</text><text class="lm" transform="translate(370.3,354.1) rotate(-90)" x="0" y="0" textLength="18.2" lengthAdjust="spacingAndGlyphs">m</text><text class="lp" transform="translate(370.3,336.3) rotate(-90)" x="0" y="0">)</text><rect x="421.2" y="317.2" width="41.1" height="28" fill="#fff"/><text class="pp" x="426.4" y="337.8">(</text><text class="pt" x="434.4" y="337.2" textLength="13.6" lengthAdjust="spacingAndGlyphs">d</text><text class="pp" x="448.8" y="337.8">)</text><path d="M414.95,309V531.2H683.6V309" fill="none" stroke="#777777" stroke-width="1.3"/><path d="M414.3,309H684.25" fill="none" stroke="#777777" stroke-width="1"/><path d="M414.95,517.5h3.2M683.6,517.5h-3.2M414.95,480.5h3.2M683.6,480.5h-3.2M414.95,442.5h3.2M683.6,442.5h-3.2M414.95,405.5h3.2M683.6,405.5h-3.2M414.95,367.5h3.2M683.6,367.5h-3.2M414.95,330.5h3.2M683.6,330.5h-3.2M489.5,531.2v-3.2M489.5,309v3.2M564.5,531.2v-3.2M564.5,309v3.2M639.5,531.2v-3.2M639.5,309v3.2" fill="none" stroke="#4a4a4a"/></svg></div></body></html>
